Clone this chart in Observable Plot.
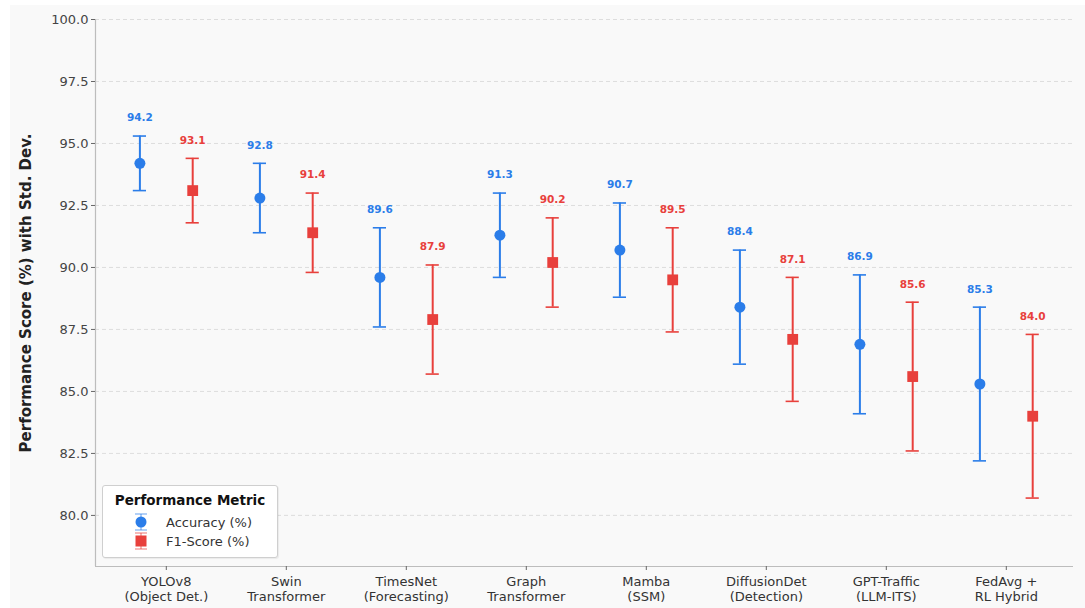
<!DOCTYPE html>
<html>
<head>
<meta charset="utf-8">
<script src="https://cdn.jsdelivr.net/npm/d3@7"></script>
<script src="https://cdn.jsdelivr.net/npm/@observablehq/plot@0.6"></script>
<style>
  html, body { margin: 0; padding: 0; background: #ffffff; }
  #figure {
    position: absolute; left: 10px; top: 5px; width: 1075px; height: 603px;
    background: #f9f9f9; font-family: "DejaVu Sans", sans-serif;
  }
  #legend {
    position: absolute; left: 92px; top: 480px; width: 174px; height: 71px;
    background: #ffffff; border: 1px solid #cfcfcf; border-radius: 3px;
    box-shadow: 1px 1px 1px rgba(0,0,0,0.06);
  }
</style>
</head>
<body>
<div id="figure"><div id="chart"></div><div id="legend"></div></div>
<script>
// Model categories (two-line tick labels)
const models = [
  "YOLOv8\n(Object Det.)", "Swin\nTransformer", "TimesNet\n(Forecasting)", "Graph\nTransformer",
  "Mamba\n(SSM)", "DiffusionDet\n(Detection)", "GPT-Traffic\n(LLM-ITS)", "FedAvg +\nRL Hybrid"
];
// Mean scores and standard deviations per metric
const accuracy    = [94.2, 92.8, 89.6, 91.3, 90.7, 88.4, 86.9, 85.3];
const accuracyStd = [1.1, 1.4, 2.0, 1.7, 1.9, 2.3, 2.8, 3.1];
const f1          = [93.1, 91.4, 87.9, 90.2, 89.5, 87.1, 85.6, 84.0];
const f1Std       = [1.3, 1.6, 2.2, 1.8, 2.1, 2.5, 3.0, 3.3];
const metricNames = ["Accuracy (%)", "F1-Score (%)"];
const yTicks = [80, 82.5, 85, 87.5, 90, 92.5, 95, 97.5, 100];

const colors = {"Accuracy (%)": "#2b7de9", "F1-Score (%)": "#e8403c"};
const offsets = {"Accuracy (%)": -0.22, "F1-Score (%)": 0.22};
const capHalf = 0.055;
const xDomain = [-0.59, 7.56];
const yDomain = [77.94, 100];

const rows = [];
models.forEach((m, i) => {
  rows.push({metric: metricNames[0], i, value: accuracy[i], std: accuracyStd[i]});
  rows.push({metric: metricNames[1], i, value: f1[i], std: f1Std[i]});
});
rows.forEach(r => {
  r.pos = r.i + offsets[r.metric];
  r.lo = r.value - r.std;
  r.hi = r.value + r.std;
  r.color = colors[r.metric];
});
const acc = rows.filter(r => r.metric === metricNames[0]);
const f1r = rows.filter(r => r.metric === metricNames[1]);

const chart = Plot.plot({
  width: 1075,
  height: 603,
  marginLeft: 85,
  marginRight: 12,
  marginTop: 14,
  marginBottom: 42,
  style: {background: "transparent", fontFamily: "DejaVu Sans, sans-serif", fontSize: "13px"},
  x: {type: "linear", domain: xDomain},
  y: {domain: yDomain},
  marks: [
    Plot.gridY(yTicks, {stroke: "#d6d6d6", strokeOpacity: 1, strokeDasharray: "4,3", strokeWidth: 0.8}),
    Plot.ruleX([xDomain[0]], {stroke: "#bdbdbd", strokeWidth: 1.2}),
    Plot.ruleY([yDomain[0]], {stroke: "#bdbdbd", strokeWidth: 1.2}),
    Plot.axisY(yTicks, {
      tickFormat: d3.format(".1f"), tickSize: 4, tickPadding: 3,
      stroke: "#666", fill: "#444", fontSize: 13, label: null
    }),
    Plot.axisX(d3.range(models.length), {
      tickFormat: i => models[i], tickSize: 4, tickPadding: 4,
      stroke: "#666", fill: "#333", fontSize: 13, lineHeight: 1.2, label: null
    }),
    // error bars
    Plot.ruleX(rows, {x: "pos", y1: "lo", y2: "hi", stroke: "color", strokeWidth: 2}),
    Plot.ruleY(rows, {y: "lo", x1: d => d.pos - capHalf, x2: d => d.pos + capHalf, stroke: "color", strokeWidth: 1.6}),
    Plot.ruleY(rows, {y: "hi", x1: d => d.pos - capHalf, x2: d => d.pos + capHalf, stroke: "color", strokeWidth: 1.6}),
    // means
    Plot.dot(acc, {x: "pos", y: "value", r: 5.5, symbol: "circle", fill: "color"}),
    Plot.dot(f1r, {x: "pos", y: "value", r: 6.1, symbol: "square", fill: "color"}),
    // value labels above the error bars
    Plot.text(rows, {
      x: "pos", y: "hi", dy: -18, text: d => d.value.toFixed(1),
      fill: "color", fontWeight: "bold", fontSize: 10.5
    }),
    // y axis title
    Plot.text(["Performance Score (%) with Std. Dev."], {
      frameAnchor: "left", rotate: -90, dx: -69, textAnchor: "middle",
      fontWeight: "bold", fontSize: 15, fill: "#222"
    })
  ]
});
document.getElementById("chart").appendChild(chart);

// Legend with error-bar glyphs
const lg = d3.select("#legend").append("svg")
  .attr("width", 174).attr("height", 71)
  .style("font-family", "DejaVu Sans, sans-serif");
lg.append("text").attr("x", 87).attr("y", 19).attr("text-anchor", "middle")
  .attr("font-weight", "bold").attr("font-size", 13.5).attr("fill", "#111")
  .text("Performance Metric");
metricNames.forEach((name, k) => {
  const cy = 36 + k * 19;
  const c = colors[name];
  const g = lg.append("g").attr("transform", `translate(38,${cy})`);
  g.append("line").attr("x1", 0).attr("x2", 0).attr("y1", -8).attr("y2", 8)
    .attr("stroke", c).attr("stroke-width", 1.5).attr("stroke-opacity", 0.5);
  [-8, 8].forEach(y => g.append("line").attr("x1", -6).attr("x2", 6).attr("y1", y).attr("y2", y)
    .attr("stroke", c).attr("stroke-width", 1.2).attr("stroke-opacity", 0.6));
  if (k === 0) g.append("circle").attr("r", 5.5).attr("fill", c);
  else g.append("rect").attr("x", -5.5).attr("y", -5.5).attr("width", 11).attr("height", 11).attr("fill", c);
  lg.append("text").attr("x", 63).attr("y", cy + 4.5).attr("font-size", 13).attr("fill", "#333").text(name);
});
</script>
</body>
</html>
